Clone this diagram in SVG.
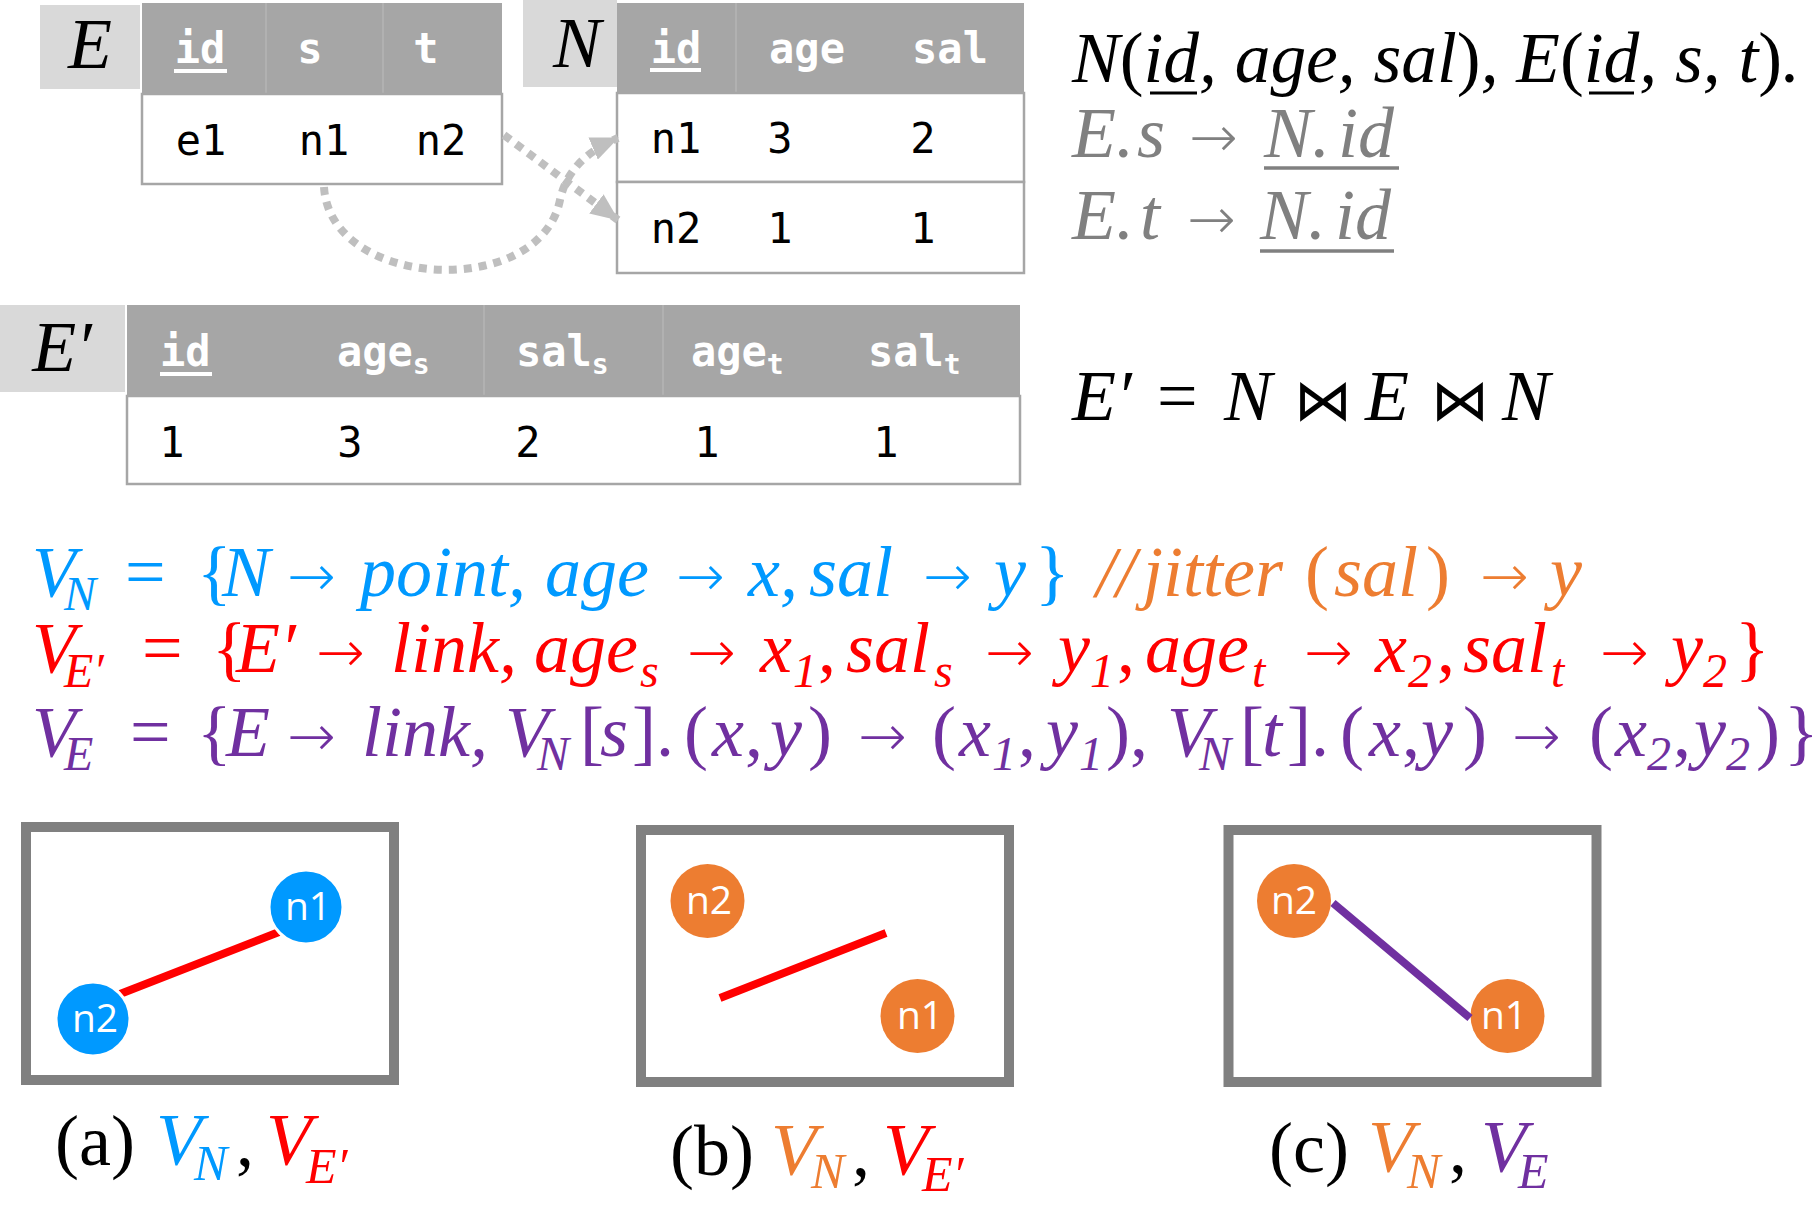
<svg xmlns="http://www.w3.org/2000/svg" width="1819" height="1211" viewBox="0 0 1819 1211">
<style>
.lab{fill:#d9d9d9}
.hdr{fill:#a6a6a6}
.row{fill:#fff;stroke:#a6a6a6;stroke-width:2.5}
.div{stroke:#b4b4b4;stroke-width:1.5}
.ht{font-family:"DejaVu Sans Mono","Liberation Mono",monospace;font-weight:bold;font-size:42px;fill:#fff;text-anchor:middle}
.hts{font-family:"DejaVu Sans Mono","Liberation Mono",monospace;font-weight:bold;font-size:42px;fill:#fff}
.dt{font-family:"DejaVu Sans Mono","Liberation Mono",monospace;font-size:42px;fill:#000;text-anchor:middle}
.ul{stroke:#fff;stroke-width:4}
.m{font-family:"Liberation Serif","DejaVu Serif",serif;font-style:italic;font-size:72px}
.u{font-style:normal}
.s{font-size:48px}
.ar{font-family:"DejaVu Sans",sans-serif;font-style:normal;font-weight:200;font-size:58px}
.bt{font-family:"DejaVu Sans",sans-serif;font-style:normal;font-size:58px}
.frame{fill:#fff;stroke:#808080;stroke-width:10}
.nl{font-family:"Open Sans","Liberation Sans",sans-serif;font-size:39px;fill:#fff;text-anchor:middle}
.conn{fill:none;stroke:#bfbfbf;stroke-width:8;stroke-dasharray:8 7}
.cap{font-family:"Liberation Serif","DejaVu Serif",serif;font-size:72px}
</style>
<defs>
<marker id="ah" viewBox="0 0 28 24" markerWidth="28" markerHeight="24" markerUnits="userSpaceOnUse" refX="27" refY="12" orient="auto">
<path d="M0,0 L28,12 L0,24 z" fill="#bfbfbf"/>
</marker>
</defs>

<g id="table-E">
<rect class="lab" x="40" y="5" width="100" height="84"/>
<text class="m" x="90" y="68" text-anchor="middle" font-size="66">E</text>
<rect class="hdr" x="142" y="3" width="360" height="91"/>
<line class="div" x1="266" y1="3" x2="266" y2="94"/>
<line class="div" x1="383" y1="3" x2="383" y2="94"/>
<rect class="row" x="142" y="94" width="360" height="90"/>
<text class="ht" x="200" y="63">id</text>
<line class="ul" x1="174" y1="71" x2="227" y2="71"/>
<text class="ht" x="310" y="63">s</text>
<text class="ht" x="426" y="63">t</text>
<text class="dt" x="201" y="155">e1</text>
<text class="dt" x="324" y="155">n1</text>
<text class="dt" x="441" y="155">n2</text>
</g>

<g id="table-N">
<rect class="lab" x="523" y="0" width="94" height="87"/>
<text class="m" x="577" y="67" text-anchor="middle" font-size="66">N</text>
<rect class="hdr" x="617" y="3" width="407" height="90"/>
<line class="div" x1="736" y1="3" x2="736" y2="93"/>
<rect class="row" x="617" y="93" width="407" height="89"/>
<rect class="row" x="617" y="182" width="407" height="91"/>
<text class="ht" x="676" y="63">id</text>
<line class="ul" x1="650" y1="70" x2="701" y2="70"/>
<text class="ht" x="807" y="63">age</text>
<text class="ht" x="950" y="63">sal</text>
<text class="dt" x="676" y="153">n1</text>
<text class="dt" x="780" y="153">3</text>
<text class="dt" x="923" y="153">2</text>
<text class="dt" x="676" y="243">n2</text>
<text class="dt" x="780" y="243">1</text>
<text class="dt" x="923" y="243">1</text>
</g>

<g id="connectors">
<path class="conn" d="M504,135 L618,220" marker-end="url(#ah)"/>
<path class="conn" d="M324,187 C330,290 540,300 560,200 C566,172 585,152 618,138" marker-end="url(#ah)"/>
</g>

<g id="schema">
<text class="m" x="1072" y="82" textLength="728" lengthAdjust="spacingAndGlyphs" font-size="68">N<tspan class="u">(</tspan>id, age, sal<tspan class="u">)</tspan>, E<tspan class="u">(</tspan>id, s, t<tspan class="u">)</tspan>.</text>
<line x1="1150" y1="93" x2="1197" y2="93" stroke="#000" stroke-width="3"/>
<line x1="1589" y1="93" x2="1634" y2="93" stroke="#000" stroke-width="3"/>
<text class="m" fill="#808080" font-size="68"><tspan x="1072" y="157">E.</tspan><tspan x="1137" y="157">s</tspan><tspan class="ar" x="1189" y="157">→</tspan><tspan x="1264" y="157">N.</tspan><tspan x="1338" y="157">id</tspan></text>
<line x1="1264" y1="168" x2="1399" y2="168" stroke="#808080" stroke-width="3.5"/>
<text class="m" fill="#808080" font-size="68"><tspan x="1072" y="239">E.</tspan><tspan x="1140" y="239">t</tspan><tspan class="ar" x="1187" y="239">→</tspan><tspan x="1260" y="239">N.</tspan><tspan x="1335" y="239">id</tspan></text>
<line x1="1260" y1="251" x2="1394" y2="251" stroke="#808080" stroke-width="3.5"/>
</g>

<g id="table-Eprime">
<rect class="lab" x="0" y="305" width="125" height="87"/>
<text class="m" x="62" y="371" text-anchor="middle" font-size="66">E′</text>
<rect class="hdr" x="127" y="305" width="893" height="91"/>
<line class="div" x1="484" y1="305" x2="484" y2="396"/>
<line class="div" x1="663" y1="305" x2="663" y2="396"/>
<rect class="row" x="127" y="396" width="893" height="88"/>
<text class="hts" x="160" y="366">id</text>
<line class="ul" x1="160" y1="374" x2="212" y2="374"/>
<text class="hts" x="337" y="366">age<tspan font-size="28" dy="8">s</tspan></text>
<text class="hts" x="516" y="366">sal<tspan font-size="28" dy="8">s</tspan></text>
<text class="hts" x="691" y="366">age<tspan font-size="28" dy="8">t</tspan></text>
<text class="hts" x="868" y="366">sal<tspan font-size="28" dy="8">t</tspan></text>
<text class="dt" x="172" y="457">1</text>
<text class="dt" x="350" y="457">3</text>
<text class="dt" x="528" y="457">2</text>
<text class="dt" x="707" y="457">1</text>
<text class="dt" x="886" y="457">1</text>
</g>

<g id="join">
<text class="m">
<tspan x="1072" y="420">E′</tspan>
<tspan class="u" x="1157" y="420">=</tspan>
<tspan x="1224" y="420">N</tspan>
<tspan class="bt" x="1294" y="420">⋈</tspan>
<tspan x="1365" y="420">E</tspan>
<tspan class="bt" x="1431" y="420">⋈</tspan>
<tspan x="1502" y="420">N</tspan>
</text>
</g>

<g id="formula-VN">
<text class="m" fill="#0099ff">
<tspan x="32" y="596">V</tspan><tspan class="s" x="64" y="610">N</tspan>
<tspan class="u" x="125" y="596">=</tspan>
<tspan class="u" x="197" y="596">{</tspan>
<tspan x="222" y="596">N</tspan>
<tspan class="ar" x="287" y="596">→</tspan>
<tspan x="360" y="596">point,</tspan>
<tspan x="545" y="596">age</tspan>
<tspan class="ar" x="676" y="596">→</tspan>
<tspan x="748" y="596">x,</tspan>
<tspan x="809" y="596">sal</tspan>
<tspan class="ar" x="923" y="596">→</tspan>
<tspan x="994" y="596">y</tspan>
<tspan class="u" x="1035" y="596">}</tspan>
</text>
<text class="m" fill="#ed7d31">
<tspan x="1096" y="596">//</tspan>
<tspan x="1143" y="596">jitter</tspan>
<tspan class="u" x="1305" y="596">(</tspan>
<tspan x="1334" y="596">sal</tspan>
<tspan class="u" x="1426" y="596">)</tspan>
<tspan class="ar" x="1480" y="596">→</tspan>
<tspan x="1550" y="596">y</tspan>
</text>
</g>

<g id="formula-VEprime">
<text class="m" fill="#ff0000">
<tspan x="32" y="672">V</tspan><tspan class="s" x="64" y="687">E′</tspan>
<tspan class="u" x="142" y="672">=</tspan>
<tspan class="u" x="212" y="672">{</tspan>
<tspan x="236" y="672">E′</tspan>
<tspan class="ar" x="316" y="672">→</tspan>
<tspan x="391" y="672">link,</tspan>
<tspan x="534" y="672">age</tspan><tspan class="s" x="640" y="687">s</tspan>
<tspan class="ar" x="687" y="672">→</tspan>
<tspan x="760" y="672">x</tspan><tspan class="s" x="793" y="687">1</tspan><tspan class="u" x="818" y="672">,</tspan>
<tspan x="846" y="672">sal</tspan><tspan class="s" x="934" y="687">s</tspan>
<tspan class="ar" x="985" y="672">→</tspan>
<tspan x="1058" y="672">y</tspan><tspan class="s" x="1090" y="687">1</tspan><tspan class="u" x="1117" y="672">,</tspan>
<tspan x="1145" y="672">age</tspan><tspan class="s" x="1252" y="687">t</tspan>
<tspan class="ar" x="1304" y="672">→</tspan>
<tspan x="1375" y="672">x</tspan><tspan class="s" x="1408" y="687">2</tspan><tspan class="u" x="1437" y="672">,</tspan>
<tspan x="1463" y="672">sal</tspan><tspan class="s" x="1551" y="687">t</tspan>
<tspan class="ar" x="1600" y="672">→</tspan>
<tspan x="1671" y="672">y</tspan><tspan class="s" x="1703" y="687">2</tspan>
<tspan class="u" x="1735" y="672">}</tspan>
</text>
</g>

<g id="formula-VE">
<text class="m" fill="#7030a0">
<tspan x="32" y="756">V</tspan><tspan class="s" x="64" y="770">E</tspan>
<tspan class="u" x="130" y="756">=</tspan>
<tspan class="u" x="197" y="756">{</tspan>
<tspan x="226" y="756">E</tspan>
<tspan class="ar" x="287" y="756">→</tspan>
<tspan x="362" y="756">link,</tspan>
<tspan x="505" y="756">V</tspan><tspan class="s" x="537" y="770">N</tspan>
<tspan class="u" x="580" y="756">[</tspan><tspan x="600" y="756">s</tspan><tspan class="u" x="632" y="756">].</tspan>
<tspan class="u" x="684" y="756">(</tspan><tspan x="712" y="756">x</tspan><tspan class="u" x="745" y="756">,</tspan><tspan x="770" y="756">y</tspan><tspan class="u" x="808" y="756">)</tspan>
<tspan class="ar" x="858" y="756">→</tspan>
<tspan class="u" x="932" y="756">(</tspan><tspan x="959" y="756">x</tspan><tspan class="s" x="992" y="770">1</tspan><tspan class="u" x="1018" y="756">,</tspan><tspan x="1046" y="756">y</tspan><tspan class="s" x="1079" y="770">1</tspan><tspan class="u" x="1106" y="756">),</tspan>
<tspan x="1167" y="756">V</tspan><tspan class="s" x="1199" y="770">N</tspan>
<tspan class="u" x="1240" y="756">[</tspan><tspan x="1262" y="756">t</tspan><tspan class="u" x="1287" y="756">].</tspan>
<tspan class="u" x="1340" y="756">(</tspan><tspan x="1369" y="756">x</tspan><tspan class="u" x="1402" y="756">,</tspan><tspan x="1421" y="756">y</tspan><tspan class="u" x="1463" y="756">)</tspan>
<tspan class="ar" x="1512" y="756">→</tspan>
<tspan class="u" x="1589" y="756">(</tspan><tspan x="1615" y="756">x</tspan><tspan class="s" x="1647" y="770">2</tspan><tspan class="u" x="1673" y="756">,</tspan><tspan x="1694" y="756">y</tspan><tspan class="s" x="1726" y="770">2</tspan><tspan class="u" x="1756" y="756">)</tspan>
<tspan class="u" x="1784" y="756">}</tspan>
</text>
</g>

<g id="panel-a">
<rect class="frame" x="26" y="827" width="368" height="253"/>
<g id="panel-a-links"><line x1="120" y1="994" x2="279" y2="932" stroke="#ff0000" stroke-width="8"/></g>
<g id="a-n1"><circle cx="306" cy="907" r="37" fill="#0099ff" stroke="#fff" stroke-width="3"/><text class="nl" x="308" y="920">n1</text></g>
<g id="a-n2"><circle cx="93" cy="1019" r="37" fill="#0099ff" stroke="#fff" stroke-width="3"/><text class="nl" x="95" y="1032">n2</text></g>
<text class="cap"><tspan x="55" y="1165">(a)</tspan><tspan font-style="italic" fill="#0099ff" x="156" y="1165" font-size="75">V</tspan><tspan font-style="italic" fill="#0099ff" x="194" y="1180" font-size="50">N</tspan><tspan x="236" y="1165">,</tspan><tspan font-style="italic" fill="#ff0000" x="266" y="1165" font-size="75">V</tspan><tspan font-style="italic" fill="#ff0000" x="306" y="1183" font-size="50">E′</tspan></text>
</g>

<g id="panel-b">
<rect class="frame" x="641" y="830" width="368" height="252"/>
<g id="panel-b-links"><line x1="720" y1="998" x2="886" y2="933" stroke="#ff0000" stroke-width="8"/></g>
<g id="b-n2"><circle cx="707.5" cy="901" r="37" fill="#ed7d31"/><text class="nl" x="709" y="914">n2</text></g>
<g id="b-n1"><circle cx="917.5" cy="1016" r="37" fill="#ed7d31"/><text class="nl" x="920" y="1029">n1</text></g>
<text class="cap"><tspan x="670" y="1175">(b)</tspan><tspan font-style="italic" fill="#ed7d31" x="771" y="1175" font-size="75">V</tspan><tspan font-style="italic" fill="#ed7d31" x="811" y="1188" font-size="50">N</tspan><tspan x="852" y="1175">,</tspan><tspan font-style="italic" fill="#ff0000" x="883" y="1175" font-size="75">V</tspan><tspan font-style="italic" fill="#ff0000" x="922" y="1191" font-size="50">E′</tspan></text>
</g>

<g id="panel-c">
<rect class="frame" x="1228.5" y="830" width="368" height="252"/>
<g id="c-n2"><circle cx="1294" cy="901" r="37" fill="#ed7d31"/><text class="nl" x="1294" y="914">n2</text></g>
<g id="c-n1"><circle cx="1507.5" cy="1016" r="37" fill="#ed7d31"/></g>
<g id="panel-c-links"><line x1="1333" y1="903" x2="1470" y2="1018" stroke="#7030a0" stroke-width="8"/></g>
<text class="nl" x="1504" y="1029">n1</text>
<text class="cap"><tspan x="1269" y="1172">(c)</tspan><tspan font-style="italic" fill="#ed7d31" x="1368" y="1172" font-size="75">V</tspan><tspan font-style="italic" fill="#ed7d31" x="1407" y="1188" font-size="50">N</tspan><tspan x="1449" y="1172">,</tspan><tspan font-style="italic" fill="#7030a0" x="1481" y="1172" font-size="75">V</tspan><tspan font-style="italic" fill="#7030a0" x="1518" y="1188" font-size="50">E</tspan></text>
</g>
</svg>
